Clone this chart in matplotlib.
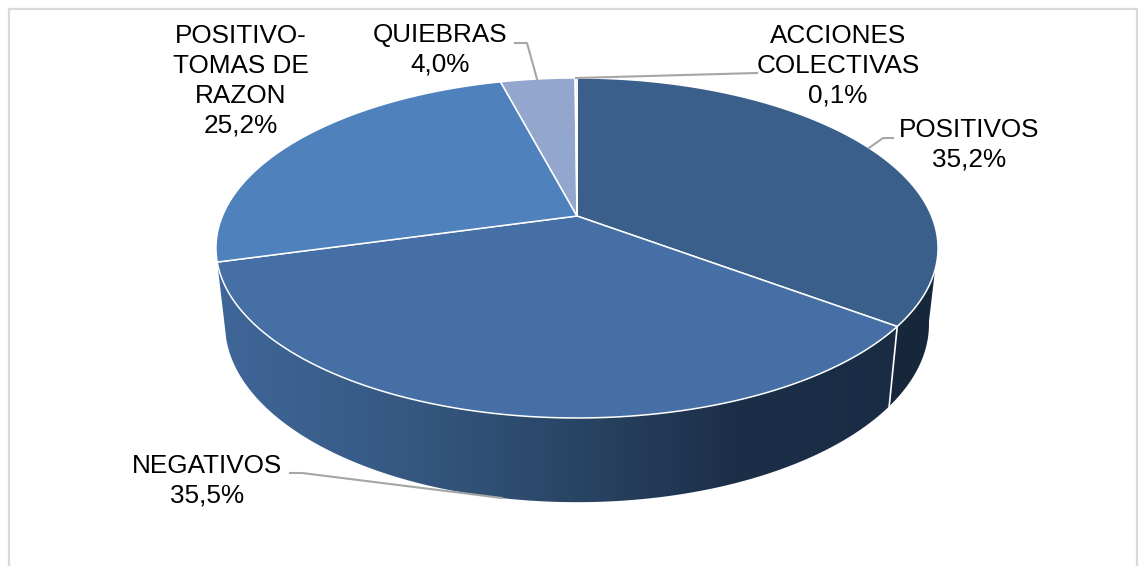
import numpy as np
import matplotlib
matplotlib.use("Agg")
import matplotlib.pyplot as plt
from matplotlib.colors import LinearSegmentedColormap
from matplotlib.patches import Polygon, Rectangle

categories = ["POSITIVOS", "NEGATIVOS", "POSITIVO-\nTOMAS DE\nRAZON", "QUIEBRAS", "ACCIONES\nCOLECTIVAS"]
values = [35.2, 35.5, 25.2, 4.0, 0.1]
top_colors = ["#3a5f8b", "#4670a5", "#4f81bd", "#93a7ce", "#b9c7de"]
label_centers = [(969.5, 145), (207, 481), (241, 81), (440, 50), (838, 66)]
leaders = [
    [(893, 138), (883, 138), (869, 148)],
    [(290, 473), (302, 473), (502, 498)],
    None,
    [(515, 43), (527, 43), (537, 79)],
    [(757, 73), (576, 78)],
]

plt.rcParams["font.family"] = ["Liberation Sans", "DejaVu Sans"]
fig = plt.figure(figsize=(11.46, 5.66), dpi=100, facecolor="white")
ax = fig.add_axes([0, 0, 1, 1])
ax.set_xlim(0, 1146)
ax.set_ylim(566, 0)
ax.axis("off")


def rim(t, cx=577.0, cy=216.0, d=354.6, a=164.0, c=0.188):
    """Perspective projection of a circle; the centre of the circle lands on (cx, cy)."""
    den = 1 + c * np.sin(t)
    return cx + d * np.cos(t) / den, cy - a * np.sin(t) / den


def rim_bottom(t):
    return rim(t, cy=290.6, d=345.7, a=171.8)


ax.add_patch(Rectangle((9, 9), 1128, 700, fc="white", ec="#d9d9d9", lw=1.6, zorder=0))

fractions = np.array(values) / sum(values)
edges = np.pi / 2 - 2 * np.pi * np.concatenate([[0], np.cumsum(fractions)])

# Side wall: POSITIVOS visible end (dark) and NEGATIVOS front with a gradient
t_pos = np.linspace(edges[1], np.radians(-10), 60)
xt, yt = rim(t_pos)
xb, yb = rim_bottom(t_pos)
ax.add_patch(Polygon(np.r_[np.c_[xt, yt], np.c_[xb, yb][::-1]], fc="#17273b", ec="none", zorder=1))

t_neg = np.linspace(edges[2], edges[1], 200)
xt, yt = rim(t_neg)
xb, yb = rim_bottom(t_neg)
poly = Polygon(np.r_[np.c_[xt, yt], np.c_[xb, yb][::-1]], fc="none", ec="none", zorder=2)
ax.add_patch(poly)
cmap = LinearSegmentedColormap.from_list("wall", ["#3f6799", "#375a85", "#2b4767", "#1c2f49", "#1a2c44"])
grad = np.linspace(0, 1, 512).reshape(1, -1)
im = ax.imshow(grad, cmap=cmap, extent=[212, 905, 505, 260], aspect="auto", zorder=2)
im.set_clip_path(poly)
ax.set_xlim(0, 1146)
ax.set_ylim(566, 0)

# White seam between the two visible side walls
x0, y0 = rim(edges[1])
x1, y1 = rim_bottom(edges[1])
ax.plot([x0, x1], [y0, y1], color="white", lw=1.2, zorder=3)

# Top face slices
apex = (577.0, 216.0)
for i, col in enumerate(top_colors):
    t = np.linspace(edges[i], edges[i + 1], 200)
    x, y = rim(t)
    pts = np.r_[[apex], np.c_[x, y]]
    ax.add_patch(Polygon(pts, closed=True, fc=col, ec="white", lw=1.1, joinstyle="round", zorder=4))

# Leader lines
for pts in leaders:
    if pts:
        p = np.array(pts)
        ax.plot(p[:, 0], p[:, 1], color="#a6a6a6", lw=1.5, zorder=5, solid_joinstyle="round")

# Labels
for name, v, (lx, ly) in zip(categories, values, label_centers):
    txt = f"{name}\n{v:.1f}%".replace(".", ",")
    ax.text(lx, ly, txt, ha="center", va="center", fontsize=18.8, color="black",
            linespacing=1.31, zorder=6)

fig.savefig("out.png", dpi=100, facecolor="white")
